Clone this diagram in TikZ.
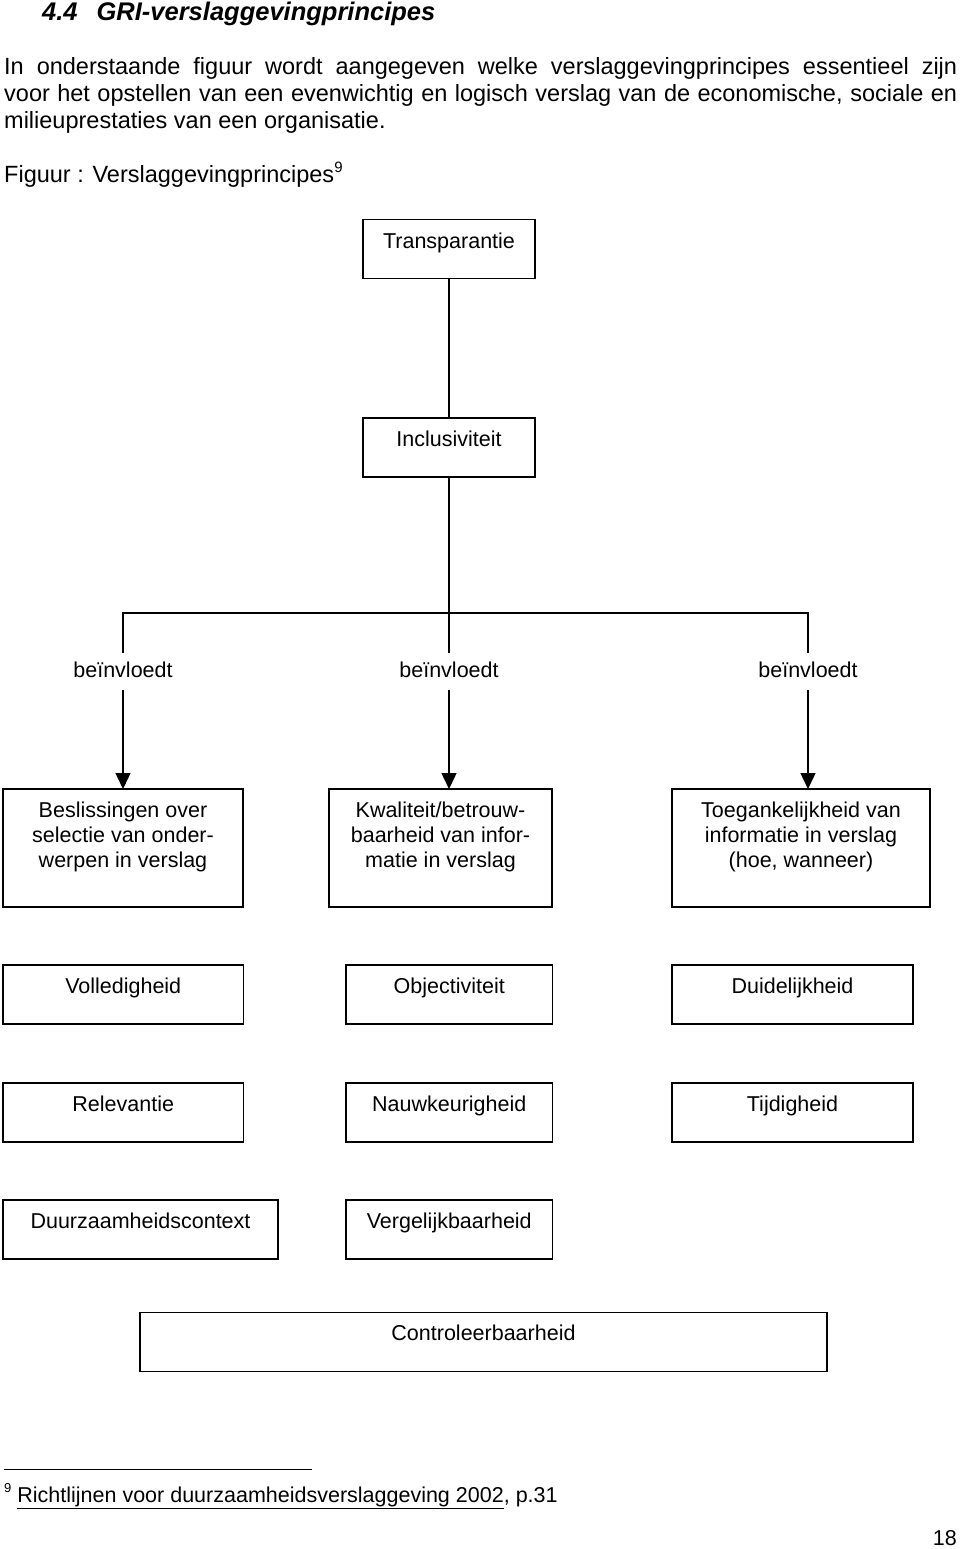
\documentclass[tikz,border=0pt]{standalone}
\usepackage{fontspec}
\setmainfont{Liberation Sans}
\usetikzlibrary{arrows.meta}
\begin{document}
\begin{tikzpicture}[x=1pt,y=-1pt,
  boxfont/.style={font=\fontsize{21.5}{25}\selectfont},
  bodyfont/.style={font=\fontsize{23.5}{27}\selectfont},
  frame/.style={draw, line width=1.6pt, inner sep=0pt, outer sep=0pt, rectangle},
  boxtext/.style={boxfont, anchor=base, inner sep=0pt, align=center},
  conn/.style={line width=1.4pt},
  arr/.style={conn, -{Triangle[length=16pt,width=15pt]}},
  lab/.style={boxfont, inner sep=0pt, minimum height=37pt, text height=16pt, text depth=4pt, fill=white},
  txt/.style={inner sep=0pt, anchor=base west}
]
\useasboundingbox (0,0) rectangle (960,1549);

% heading and body text
\node[txt, font=\fontsize{25.5}{29}\selectfont\bfseries\itshape] (head) at (42,21) {4.4\hspace{19pt}GRI-verslaggevingprincipes};
\node[txt, bodyfont] (p1) at (4,74.5) {\makebox[953pt][s]{In onderstaande figuur wordt aangegeven welke verslaggevingprincipes essentieel zijn}};
\node[txt, bodyfont] (p2) at (4,101.5) {\makebox[953pt][s]{voor het opstellen van een evenwichtig en logisch verslag van de economische, sociale en}};
\node[txt, bodyfont] (p3) at (4,128.5) {milieuprestaties van een organisatie.};
\node[txt, bodyfont] (fig) at (4,182.5) {Figuur : Verslaggevingprincipes\raisebox{10pt}{\fontsize{15}{17}\selectfont 9}};

% boxes (frames)
\node[frame, minimum width=172pt, minimum height=59pt, anchor=north west] (trans) at (363,219.5) {};
\node[frame, minimum width=172pt, minimum height=59pt, anchor=north west] (incl) at (363,418) {};

\node[frame, minimum width=240pt, minimum height=118pt, anchor=north west] (boxA) at (3,789) {};
\node[frame, minimum width=223pt, minimum height=118pt, anchor=north west] (boxB) at (329,789) {};
\node[frame, minimum width=258pt, minimum height=118pt, anchor=north west] (boxC) at (672,789) {};

\node[frame, minimum width=240.5pt, minimum height=59pt, anchor=north west] (voll) at (3,965) {};
\node[frame, minimum width=206.5pt, minimum height=59pt, anchor=north west] (obj) at (346,965) {};
\node[frame, minimum width=241pt, minimum height=59pt, anchor=north west] (duid) at (672,965) {};

\node[frame, minimum width=240.5pt, minimum height=59pt, anchor=north west] (rel) at (3,1083) {};
\node[frame, minimum width=206.5pt, minimum height=59pt, anchor=north west] (nauw) at (346,1083) {};
\node[frame, minimum width=241pt, minimum height=59pt, anchor=north west] (tijd) at (672,1083) {};

\node[frame, minimum width=275pt, minimum height=59pt, anchor=north west] (duur) at (3,1200) {};
\node[frame, minimum width=206.5pt, minimum height=59pt, anchor=north west] (verg) at (346,1200) {};

\node[frame, minimum width=687pt, minimum height=59pt, anchor=north west] (contr) at (140,1312.5) {};

% box texts
\node[boxtext] (transT) at ([yshift=-28.5pt]trans.north) {Transparantie};
\node[boxtext] (inclT) at ([yshift=-28.5pt]incl.north) {Inclusiviteit};
\node[boxtext] (boxAT) at ([yshift=-78pt]boxA.north) {Beslissingen over\\selectie van onder-\\werpen in verslag};
\node[boxtext] (boxBT) at ([yshift=-78pt]boxB.north) {Kwaliteit/betrouw-\\baarheid van infor-\\matie in verslag};
\node[boxtext] (boxCT) at ([yshift=-78pt]boxC.north) {Toegankelijkheid van\\informatie in verslag\\(hoe, wanneer)};
\node[boxtext] (vollT) at ([yshift=-28.5pt]voll.north) {Volledigheid};
\node[boxtext] (objT) at ([yshift=-28.5pt]obj.north) {Objectiviteit};
\node[boxtext] (duidT) at ([yshift=-28.5pt]duid.north) {Duidelijkheid};
\node[boxtext] (relT) at ([yshift=-28.5pt]rel.north) {Relevantie};
\node[boxtext] (nauwT) at ([yshift=-28.5pt]nauw.north) {Nauwkeurigheid};
\node[boxtext] (tijdT) at ([yshift=-28.5pt]tijd.north) {Tijdigheid};
\node[boxtext] (duurT) at ([yshift=-28.5pt]duur.north) {Duurzaamheidscontext};
\node[boxtext] (vergT) at ([yshift=-28.5pt]verg.north) {Vergelijkbaarheid};
\node[boxtext] (contrT) at ([yshift=-28pt]contr.north) {Controleerbaarheid};

% labels
\node[lab] (lab1) at (123,671.5) {beïnvloedt};
\node[lab] (lab2) at (449,671.5) {beïnvloedt};
\node[lab] (lab3) at (808,671.5) {beïnvloedt};
\coordinate (jL) at (123,613);
\coordinate (jR) at (808,613);

% connectors
\draw[conn] (trans.south) -- (incl.north);
\draw[conn] (incl.south) -- (lab2.north);
\draw[conn] (lab1.north) -- (jL) -- (jR) -- (lab3.north);
\draw[arr] (lab1.south) -- (lab1.south |- boxA.north);
\draw[arr] (lab2.south) -- (lab2.south |- boxB.north);
\draw[arr] (lab3.south) -- (lab3.south |- boxC.north);

% footnote
\coordinate (fnA) at (4,1469.5);
\coordinate (fnB) at (312,1469.5);
\draw[line width=1pt] (fnA) -- (fnB);
\node[txt, boxfont] (fn) at (4,1502) {\raisebox{10pt}{\fontsize{13}{15}\selectfont 9}\hspace{6pt}\underline{Richtlijnen voor duurzaamheidsverslaggeving 2002}, p.31};
\node[inner sep=0pt, anchor=base east, boxfont] (pnum) at (957,1545) {18};
\end{tikzpicture}
\end{document}
